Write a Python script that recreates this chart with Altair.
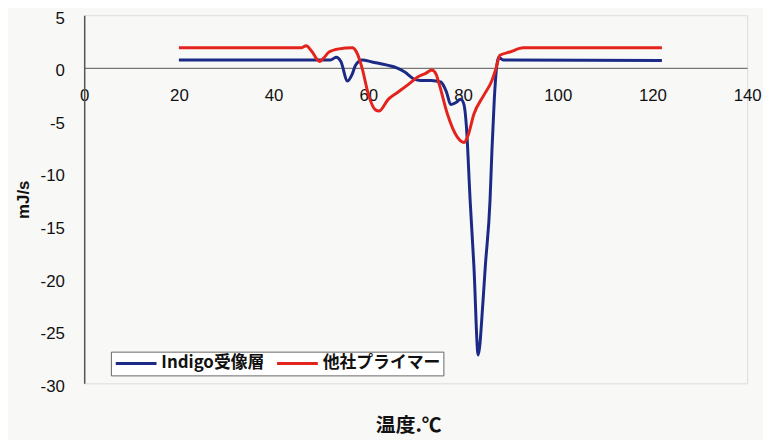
import altair as alt
import pandas as pd

series_names = ["Indigo受像層", "他社プライマー"]
series_colors = ["#1b2a86", "#e5231d"]

x_ticks = [0, 20, 40, 60, 80, 100, 120, 140]
y_ticks = [5, 0, -5, -10, -15, -20, -25, -30]

blue_temp = [20, 52, 53.2, 54.2, 55.6, 56.6, 57.3, 58.7, 60.8, 64, 66, 67.7, 69.8, 71,
             73.3, 75.3, 76.5, 77.4, 78.5, 79.5, 80.2, 80.7, 81.5, 82.3, 83.2, 84.2,
             84.7, 85.7, 86.1, 86.6, 87.5, 88.5, 122]
blue_val = [0.75, 0.75, 1.0, 0.6, -1.25, -0.6, 0.25, 0.75, 0.55, 0.25, 0.0, -0.4, -1.1, -1.2,
            -1.2, -1.35, -2.3, -3.5, -3.3, -3.0, -3.5, -5.5, -12.6, -18.9, -27.3, -22.3,
            -18.9, -12.6, -7.9, -3.0, 1.0, 0.75, 0.7]

red_temp = [20, 45.8, 46.9, 48, 49.7, 50.5, 51.7, 53.8, 56.6, 57.5, 58.7, 60, 61.5, 62.3,
            64.2, 66.3, 68.4, 70.5, 72.2, 73.4, 74.3, 75, 76.7, 78.8, 80.2, 81, 82.3,
            84.4, 86.1, 87, 87.8, 89.9, 92.7, 122]
red_val = [1.9, 1.9, 2.1, 1.6, 0.6, 0.9, 1.5, 1.8, 1.9, 1.5, -0.05, -2.5, -4.0, -4.1,
           -3.0, -2.3, -1.6, -0.85, -0.5, -0.2, -0.6, -1.6, -4.4, -6.6, -7.1, -6.5, -4.4,
           -2.6, -1.2, 0.0, 1.2, 1.5, 1.9, 1.9]

df = pd.concat([
    pd.DataFrame({"temp": blue_temp, "val": blue_val, "series": series_names[0], "order": range(len(blue_temp))}),
    pd.DataFrame({"temp": red_temp, "val": red_val, "series": series_names[1], "order": range(len(red_temp))}),
])

W, H = 670, 372
ymin, ymax = -30, 5
zero_offset = -H * (0 - ymin) / (ymax - ymin)

font = "Liberation Sans"
cjk = "Noto Sans CJK JP"

chart = alt.Chart(df).mark_line(strokeWidth=3, interpolate="monotone").encode(
    x=alt.X("temp:Q",
            scale=alt.Scale(domain=[0, 140], nice=False, zero=False),
            axis=alt.Axis(values=x_ticks, offset=zero_offset, ticks=False, grid=False,
                          labelPadding=20, labelFontSize=17, labelFont=font,
                          labelColor="#111", domainColor="#777", domainWidth=1.2,
                          title=None, labelFlush=False)),
    y=alt.Y("val:Q",
            scale=alt.Scale(domain=[ymin, ymax], nice=False),
            axis=alt.Axis(values=y_ticks, ticks=False, grid=False, labelPadding=20,
                          labelFontSize=17, labelFont=font, labelColor="#111",
                          labelOffset=3,
                          labelExpr="datum.value < 0 ? '-' + abs(datum.value) : '' + datum.value",
                          domainColor="#555", domainWidth=1.5,
                          title="mJ/s", titleFont=font, titleFontSize=17,
                          titleFontWeight="bold", titleColor="#111", titlePadding=8)),
    color=alt.Color("series:N",
                    scale=alt.Scale(domain=series_names, range=series_colors),
                    legend=alt.Legend(orient="none", legendX=27, legendY=340,
                                      direction="horizontal", title=None,
                                      symbolType="stroke", symbolSize=1700,
                                      symbolStrokeWidth=3, clipHeight=18,
                                      labelFont=cjk,
                                      labelFontSize=17, labelFontWeight="bold",
                                      labelColor="#111", strokeColor="#666",
                                      fillColor="#ffffff", padding=3,
                                      columnPadding=10, labelOffset=3)),
    order="order:Q",
).properties(
    width=W, height=H,
    title=alt.TitleParams("温度.℃", orient="bottom", anchor="middle", font=cjk,
                          fontSize=20, fontWeight="bold", color="#111", offset=22,
                          dx=-7),
    autosize=alt.AutoSizeParams(type="none"),
    padding={"left": 77, "top": 5, "right": 16, "bottom": 55},
).configure_view(
    stroke="#666", strokeWidth=1.5
).configure(background="#f8f8f6")

chart.save("out.html", embed_options={"renderer": "svg", "actions": False})
